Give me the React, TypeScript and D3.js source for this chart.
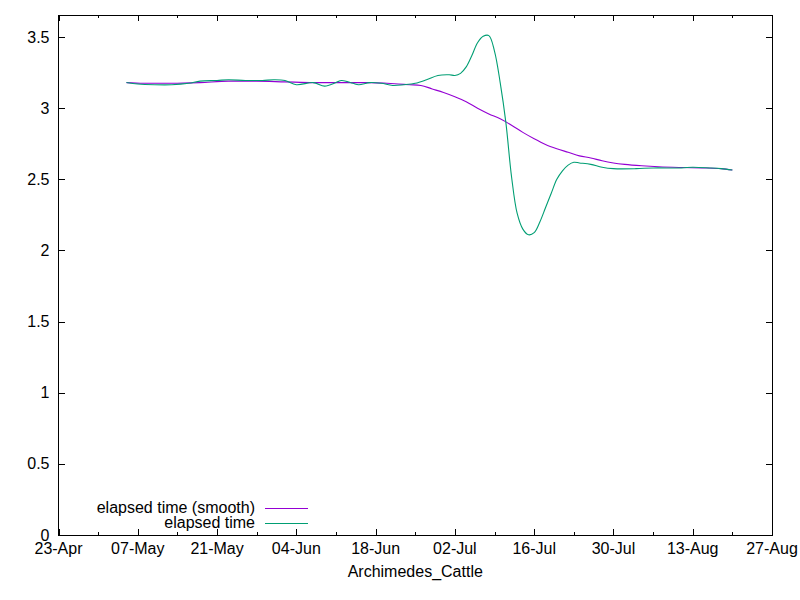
import React, { useEffect, useRef } from 'react';
import * as d3 from 'd3';

// elapsed time (raw)
const rawDates = [
  '2019-05-05', '2019-05-07', '2019-05-10', '2019-05-13', '2019-05-16', '2019-05-18',
  '2019-05-21', '2019-05-23', '2019-05-26', '2019-05-29', '2019-05-31', '2019-06-02',
  '2019-06-04', '2019-06-07', '2019-06-09', '2019-06-11', '2019-06-12', '2019-06-14',
  '2019-06-15', '2019-06-17', '2019-06-19', '2019-06-21', '2019-06-23', '2019-06-25',
  '2019-06-27', '2019-06-29', '2019-07-01', '2019-07-02', '2019-07-03', '2019-07-04',
  '2019-07-05', '2019-07-06', '2019-07-07', '2019-07-08', '2019-07-09', '2019-07-10',
  '2019-07-11', '2019-07-12', '2019-07-13', '2019-07-14', '2019-07-15', '2019-07-16',
  '2019-07-17', '2019-07-18', '2019-07-19', '2019-07-20', '2019-07-21', '2019-07-22',
  '2019-07-23', '2019-07-24', '2019-07-26', '2019-07-28', '2019-07-30', '2019-08-03',
  '2019-08-06', '2019-08-11', '2019-08-13', '2019-08-16', '2019-08-18', '2019-08-20',
];
const rawValues = [
  3.18, 3.17, 3.165, 3.165, 3.175, 3.19,
  3.195, 3.2, 3.195, 3.195, 3.2, 3.195,
  3.165, 3.18, 3.155, 3.18, 3.195, 3.175,
  3.165, 3.18, 3.175, 3.16, 3.165, 3.175,
  3.2, 3.23, 3.235, 3.23, 3.245, 3.29,
  3.37, 3.46, 3.505, 3.51, 3.4, 3.18,
  2.9, 2.52, 2.26, 2.15, 2.11, 2.125,
  2.2, 2.3, 2.4, 2.5, 2.56, 2.6,
  2.62, 2.615, 2.605, 2.585, 2.575, 2.575,
  2.58, 2.58, 2.585, 2.58, 2.575, 2.565,
];

// elapsed time (smooth)
const smoothDates = [
  '2019-05-05', '2019-05-08', '2019-05-13', '2019-05-18', '2019-05-23', '2019-05-28',
  '2019-06-02', '2019-06-07', '2019-06-12', '2019-06-17', '2019-06-20', '2019-06-22',
  '2019-06-24', '2019-06-26', '2019-06-28', '2019-06-30', '2019-07-02', '2019-07-04',
  '2019-07-06', '2019-07-08', '2019-07-10', '2019-07-12', '2019-07-14', '2019-07-16',
  '2019-07-18', '2019-07-20', '2019-07-22', '2019-07-24', '2019-07-26', '2019-07-28',
  '2019-07-30', '2019-08-01', '2019-08-04', '2019-08-07', '2019-08-11', '2019-08-15',
  '2019-08-18', '2019-08-20',
];
const smoothValues = [
  3.18, 3.175, 3.175, 3.18, 3.19, 3.19,
  3.185, 3.18, 3.18, 3.18, 3.175, 3.17,
  3.165, 3.16, 3.135, 3.11, 3.08, 3.045,
  3.0, 2.96, 2.925, 2.88, 2.83, 2.785,
  2.745, 2.715, 2.69, 2.665, 2.65, 2.63,
  2.615, 2.605, 2.595, 2.588, 2.583, 2.58,
  2.575, 2.565,
];

const yTicks = [0, 0.5, 1, 1.5, 2, 2.5, 3, 3.5];
const xStart = '2019-04-23';
const xEnd = '2019-08-27';

const seriesNames = ['elapsed time (smooth)', 'elapsed time'];
const seriesColors = ['#9400d3', '#009e73'];
const xLabel = 'Archimedes_Cattle';

const W = 800;
const H = 600;
const margin = { top: 15, right: 28, bottom: 65, left: 58.5 };
const FONT = '"Liberation Sans", Arial, sans-serif';

export default function App() {
  const ref = useRef<SVGSVGElement>(null);

  useEffect(() => {
    document.body.style.margin = '0';
    if (!ref.current) return;
    const svg = d3.select(ref.current);
    svg.selectAll('*').remove();

    const parse = d3.utcParse('%Y-%m-%d');
    const x0 = margin.left;
    const x1 = W - margin.right;
    const y0 = H - margin.bottom;
    const y1 = margin.top;

    const x = d3.scaleUtc()
      .domain([parse(xStart)!, parse(xEnd)!])
      .range([x0, x1]);
    const y = d3.scaleLinear().domain([0, 3.655]).range([y0, y1]);

    const g = svg.append('g').attr('font-family', FONT).attr('font-size', 16);

    // ticks: major every 14 days, minor every 7
    const major = d3.utcDay.range(parse(xStart)!, d3.utcDay.offset(parse(xEnd)!, 1), 14);
    const minor = d3.utcDay.range(parse(xStart)!, d3.utcDay.offset(parse(xEnd)!, 1), 7)
      .filter(d => !major.some(m => +m === +d));
    const fmt = d3.utcFormat('%d-%b');

    const ticks = g.append('g').attr('stroke', '#000').attr('stroke-width', 1).attr('shape-rendering', 'crispEdges');
    major.forEach(d => {
      const px = Math.round(x(d)) + 0.5;
      ticks.append('line').attr('x1', px).attr('x2', px).attr('y1', y0).attr('y2', y0 - 6);
      ticks.append('line').attr('x1', px).attr('x2', px).attr('y1', y1).attr('y2', y1 + 6);
    });
    minor.forEach(d => {
      const px = Math.round(x(d)) + 0.5;
      ticks.append('line').attr('x1', px).attr('x2', px).attr('y1', y0).attr('y2', y0 - 3);
      ticks.append('line').attr('x1', px).attr('x2', px).attr('y1', y1).attr('y2', y1 + 3);
    });
    yTicks.forEach(v => {
      const py = Math.round(y(v)) + 0.5;
      ticks.append('line').attr('x1', x0).attr('x2', x0 + 6).attr('y1', py).attr('y2', py);
      ticks.append('line').attr('x1', x1).attr('x2', x1 - 6).attr('y1', py).attr('y2', py);
    });

    g.append('g').selectAll('text').data(major).join('text')
      .attr('x', d => x(d)).attr('y', y0 + 19)
      .attr('text-anchor', 'middle').attr('fill', '#000')
      .text(d => fmt(d));

    g.append('g').selectAll('text').data(yTicks).join('text')
      .attr('x', x0 - 9).attr('y', d => y(d)).attr('dy', '0.35em')
      .attr('text-anchor', 'end').attr('fill', '#000')
      .text(d => d3.format('')(d));

    g.append('text')
      .attr('x', (x0 + x1) / 2).attr('y', y0 + 42)
      .attr('text-anchor', 'middle').attr('fill', '#000')
      .text(xLabel);

    const smoothLine = d3.line<[Date, number]>()
      .x(d => x(d[0])).y(d => y(d[1]))
      .curve(d3.curveMonotoneX);
    const rawLine = d3.line<[Date, number]>()
      .x(d => x(d[0])).y(d => y(d[1]))
      .curve(d3.curveCatmullRom.alpha(0.5));

    const smooth: [Date, number][] = smoothDates.map((d, i) => [parse(d)!, smoothValues[i]]);
    const raw: [Date, number][] = rawDates.map((d, i) => [parse(d)!, rawValues[i]]);

    g.append('path').datum(smooth)
      .attr('fill', 'none').attr('stroke', seriesColors[0]).attr('stroke-width', 1.1)
      .attr('d', smoothLine);
    g.append('path').datum(raw)
      .attr('fill', 'none').attr('stroke', seriesColors[1]).attr('stroke-width', 1.1)
      .attr('d', rawLine);

    // legend
    seriesNames.forEach((name, i) => {
      const ly = 507 + i * 15;
      g.append('text')
        .attr('x', 255).attr('y', ly).attr('dy', '0.35em')
        .attr('text-anchor', 'end').attr('fill', '#000')
        .text(name);
      g.append('line')
        .attr('x1', 265).attr('x2', 308).attr('y1', ly + 1.5).attr('y2', ly + 1.5)
        .attr('stroke', seriesColors[i]).attr('stroke-width', 1);
    });

    // frame
    g.append('rect')
      .attr('x', x0).attr('y', y1 + 0.5)
      .attr('width', x1 - x0).attr('height', y0 - y1)
      .attr('fill', 'none').attr('stroke', '#000').attr('stroke-width', 1)
      .attr('shape-rendering', 'crispEdges');
  }, []);

  return (
    <svg ref={ref} width={W} height={H} viewBox={`0 0 ${W} ${H}`}
      style={{ display: 'block', background: '#fff' }} />
  );
}
